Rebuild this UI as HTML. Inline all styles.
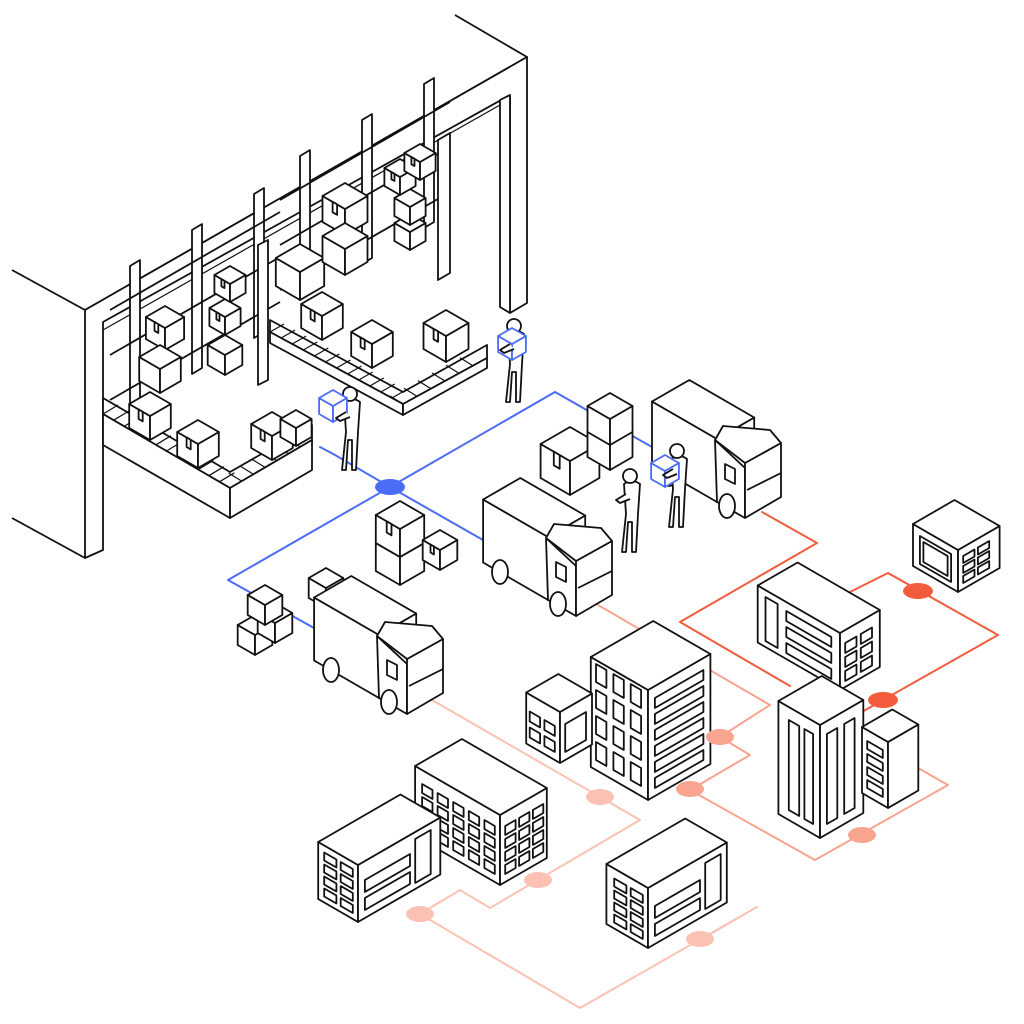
<!DOCTYPE html>
<html><head><meta charset="utf-8"><style>html,body{margin:0;padding:0;background:#fff}svg{display:block}</style></head>
<body>
<svg id="s" width="1024" height="1024" viewBox="0 0 1024 1024" xmlns="http://www.w3.org/2000/svg">
<g fill="none" stroke-linejoin="round" stroke-linecap="round">
<g stroke="#4a6cf7" stroke-width="2">
<polyline points="314,628 228,580 390,487 555,392 652,447"/>
<polyline points="390,487 483,540"/>
<polyline points="390,487 335,455 320,447"/>
</g>
<g stroke="#f25c3c" stroke-width="2">
<polyline points="762,512 817,543 680,622 790,686"/>
<polyline points="850,592 888,573 998,635 860,713"/>
</g>
<g stroke="#f8a48e" stroke-width="2">
<polyline points="598,605 770,705 720,737 750,755 690,790 815,860 948,785 918,768"/>
</g>
<g stroke="#fbc2b3" stroke-width="2">
<polyline points="432,700 640,820 490,908 460,890 420,914 580,1008 757,907 700,940"/>
</g>
</g>
<g id="g" fill="#fff" stroke="#111" stroke-width="1.8" stroke-linejoin="round"></g>
<g stroke="none">
<ellipse cx="390" cy="487" rx="15" ry="8" fill="#4a6cf7"/>
<ellipse cx="918" cy="591" rx="15" ry="8" fill="#f25c3c"/>
<ellipse cx="883" cy="700" rx="15" ry="8" fill="#f25c3c"/>
<ellipse cx="720" cy="737" rx="14" ry="8" fill="#f8a48e"/>
<ellipse cx="690" cy="789" rx="14" ry="8" fill="#f8a48e"/>
<ellipse cx="862" cy="835" rx="14" ry="8" fill="#f8a48e"/>
<ellipse cx="600" cy="797" rx="14" ry="8" fill="#fbc2b3"/>
<ellipse cx="538" cy="880" rx="14" ry="8" fill="#fbc2b3"/>
<ellipse cx="420" cy="914" rx="14" ry="8" fill="#fbc2b3"/>
<ellipse cx="700" cy="939" rx="14" ry="8" fill="#fbc2b3"/>
</g>
</svg>
<script>
var g=document.getElementById('g'),C=0.866,S=0.5,out='';
function P(a){return a.map(function(p){return p[0].toFixed(1)+','+p[1].toFixed(1)}).join(' ')}
function poly(a,st){out+='<polygon points="'+P(a)+'"'+(st?' '+st:'')+'/>'}
function line(a,st){out+='<polyline fill="none" points="'+P(a)+'"'+(st?' '+st:'')+'/>'}
function up(p,h){return [p[0],p[1]-h]}
function box(x,y,a,b,h,st){var F=[x,y],R=[x+a*C,y-a*S],L=[x-b*C,y-b*S],B=[R[0]-b*C,R[1]-b*S];
poly([L,F,up(F,h),up(L,h)],st);poly([F,R,up(R,h),up(F,h)],st);poly([up(F,h),up(R,h),up(B,h),up(L,h)],st);}
function fp(x,y,side,u,v){return side=='R'?[x+u*C,y-u*S-v]:[x-u*C,y-u*S-v]}
function win(x,y,side,u0,u1,v0,v1){poly([fp(x,y,side,u0,v0),fp(x,y,side,u1,v0),fp(x,y,side,u1,v1),fp(x,y,side,u0,v1)])}
function grid(x,y,side,u0,v0,cols,rows,w,hh,gu,gv){for(var i=0;i<cols;i++)for(var j=0;j<rows;j++){var u=u0+i*(w+gu),v=v0+j*(hh+gv);win(x,y,side,u,u+w,v,v+hh)}}
function cube(x,y,s,tape){box(x,y,s,s,s);if(tape){poly([fp(x,y-s,'L',s*0.35,0),fp(x,y-s,'L',s*0.55,0),fp(x,y,'L',s*0.55,s*0.6),fp(x,y,'L',s*0.35,s*0.6)])}}
// ---- warehouse ----
line([[12,270],[85,310]]);line([[12,518],[85,558]]);
line([[455,15],[527,57],[85,310]]);
poly([[85,310],[527,57],[527,303],[510,313],[510,95],[103,322],[103,550],[85,558]]);
poly([[500,100],[510,95],[510,313],[500,307]]);
line([[103,330],[500,105]],'stroke-width="1.2"');
function rack(x0,y0){
 for(var k=0;k<3;k++){var px=x0+k*62,py=y0-k*36;poly([[px,py],[px+10,py-6],[px+10,py-150],[px,py-144]]);}
 for(var j=0;j<3;j++){line([[x0-20,y0-10-j*45],[x0+150,y0-108-j*45]])}
}
rack(130,410);rack(300,300);
cube(165,350,22,1);cube(225,335,18,1);cube(230,302,18,1);cube(160,393,24,0);cube(225,375,20,0);
cube(345,235,26,1);cube(410,250,18,0);cube(410,225,18,0);cube(400,195,18,1);cube(420,180,18,1);cube(300,300,28,0);cube(345,275,26,0);
poly([[258,245],[268,240],[268,380],[258,385]]);
poly([[438,140],[450,133],[450,273],[438,280]]);
poly([[103,398],[230,472],[312,425],[312,440],[230,488],[103,414]]);
poly([[103,414],[230,488],[230,518],[103,445]]);poly([[230,488],[312,440],[312,470],[230,518]]);
for(var i=0;i<12;i++){var t=i/12;line([[103+127*t,414+74*t],[118+127*t,405+74*t]],'stroke-width="1.2"')}
for(var i=0;i<7;i++){var t=i/7;line([[230+82*t,488-48*t],[217+82*t,480-48*t]],'stroke-width="1.2"')}
cube(150,440,24,1);cube(198,468,24,1);cube(272,460,24,1);cube(296,446,18,0);
poly([[270,320],[403,392],[487,345],[487,358],[403,404],[270,332]]);
poly([[270,332],[403,404],[403,415],[270,343]]);poly([[403,404],[487,358],[487,368],[403,415]]);
for(var i=0;i<12;i++){var t=i/12;line([[270+133*t,332+72*t],[284+133*t,324+72*t]],'stroke-width="1.2"')}
for(var i=0;i<6;i++){var t=i/6;line([[403+84*t,404-46*t],[390+84*t,396-46*t]],'stroke-width="1.2"')}
cube(322,340,24,1);cube(372,368,24,1);cube(446,362,26,1);
cube(570,495,34,1);cube(610,470,26,0);cube(610,445,26,0);cube(400,585,28,0);cube(400,557,28,1);cube(440,570,20,1);
cube(326,608,20,0);
cube(255,655,20,0);cube(275,643,20,0);cube(265,625,20,0);
function truck(dx,dy){var x=548+dx,y=600+dy;box(x,y,43,75,63);
 var cx=576+dx,cy=616+dy;poly([[x,y],[cx,cy],[cx,cy-50],[x-2,y-62]]);
 poly([[cx,cy],[cx+36,cy-21],[cx+36,cy-75],[cx,cy-55]]);
 poly([[x-2,y-62],[cx,cy-55],[cx+36,cy-75],[cx+25,cy-88],[x+6,y-76]]);
 line([[cx+2,cy-28],[cx+36,cy-45]]);
 poly([[x+8,y-38],[x+18,y-33],[x+18,y-18],[x+8,y-23]]);
 out+='<ellipse cx="'+(500+dx)+'" cy="'+(572+dy)+'" rx="8" ry="12"/>';
 out+='<ellipse cx="'+(558+dx)+'" cy="'+(604+dy)+'" rx="8" ry="12"/>';}
truck(169,-98);truck(0,0);truck(-169,98);
function person(x,y,blue){
 out+='<path d="M'+(x-6)+','+y+' l4,-38 l-2,-30 q8,-6 16,0 l-2,30 l-2,38 l-4,0 l0,-30 l-4,0 l-2,30 z"/>';
 out+='<circle cx="'+(x+2)+'" cy="'+(y-76)+'" r="7"/>';
 if(blue){var bx=x+blue[0],by=y+blue[1];box(bx,by,16,16,16,'stroke="#4a6cf7"');}
 out+='<path d="M'+(x-2)+','+(y-58)+' l-10,6 l4,3 l10,-4" />';}
person(512,402,[0,-42]);person(348,470,[-15,-48]);person(628,552,null);person(675,527,[-10,-40]);
box(958,592,48,52,42);win(958,592,'L',8,44,6,34);win(958,592,'L',12,40,10,30);grid(958,592,'R',6,6,2,3,13,7,4,3);
box(840,690,46,95,57);grid(840,690,'R',6,6,2,3,13,10,5,4);win(840,690,'L',72,86,6,50);win(840,690,'L',10,62,6,16);win(840,690,'L',10,62,22,32);win(840,690,'L',10,62,38,48);
box(820,838,50,48,113);win(820,838,'L',8,18,10,100);win(820,838,'L',24,36,10,100);win(820,838,'R',8,20,10,100);win(820,838,'R',28,40,10,100);
box(888,808,35,30,66);grid(888,808,'L',6,8,1,4,18,8,0,5);
box(648,800,72,66,110);grid(648,800,'L',8,10,3,4,12,18,8,8);for(var j=0;j<6;j++)win(648,800,'R',8,64,8+j*16,18+j*16);
box(560,763,37,39,51);grid(560,763,'L',6,8,2,2,12,10,5,6);win(560,763,'R',6,30,8,36);
box(500,885,54,98,70);grid(500,885,'L',6,8,5,4,12,9,6,4);grid(500,885,'R',6,8,3,4,12,9,4,4);
box(358,922,95,46,57);grid(358,922,'L',6,6,2,4,14,8,5,4);win(358,922,'R',8,60,8,20);win(358,922,'R',8,60,26,38);win(358,922,'R',66,84,6,50);
box(648,948,91,48,60);grid(648,948,'L',6,6,2,4,14,8,5,4);win(648,948,'R',8,60,8,20);win(648,948,'R',8,60,26,38);win(648,948,'R',66,84,6,52);
g.innerHTML=out;
</script>
</body></html>
